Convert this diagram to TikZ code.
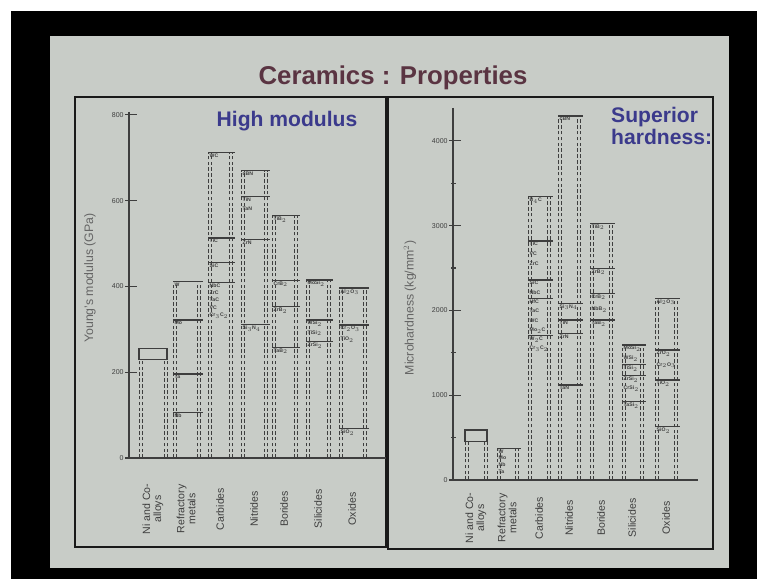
\documentclass[tikz,border=0pt]{standalone}
\usepackage{fontspec}
\setmainfont{Liberation Sans}
\usetikzlibrary{positioning}

\definecolor{slide}{HTML}{C8CCC7}
\definecolor{titlered}{HTML}{5A3442}
\definecolor{headblue}{HTML}{3B3A8C}
\definecolor{ink}{HTML}{3E3E3E}

\tikzset{
  frame/.style={line width=1.9pt, black!90},
  axisline/.style={line width=1pt, ink},
  colline/.style={densely dashed, line width=0.6pt, ink},
  level/.style={line width=1.1pt, ink},
  lvl/.style={font=\bfseries\fontsize{4.4}{5}\selectfont, text=ink, inner sep=0.4pt, anchor=north west},
  ticklab/.style={font=\fontsize{6}{7}\selectfont, text=ink, anchor=east, inner sep=1pt},
  cat/.style={font=\fontsize{9}{9.4}\selectfont, text=ink, rotate=90, align=center, inner sep=0pt},
  ytitle/.style={font=\fontsize{10.5}{12}\selectfont, text=ink!80, rotate=90, inner sep=0pt},
  head/.style={font=\bfseries\fontsize{18}{19}\selectfont, text=headblue, align=left, inner sep=0pt}
}

% one column of a bar chart: base y, scale, left x, right x, {value/label/line opacity}
\newcommand{\matcol}[5]{%
  \draw[colline] (#3,#1) -- (#3,{#1-#2*\topv});
  \draw[colline] (#3+3,#1) -- (#3+3,{#1-#2*\topv});
  \draw[colline] (#4-3,#1) -- (#4-3,{#1-#2*\topv});
  \draw[colline] (#4,#1) -- (#4,{#1-#2*\topv});
  \foreach \v/\l/\o in {#5}{
    \draw[level, draw opacity=\o] (#3,{#1-#2*\v}) -- (#4+3,{#1-#2*\v});
    \node[lvl] (l#3v\v) at (#3+1,{#1-#2*\v+0.5}) {\l};
  }
}

\begin{document}
\begin{tikzpicture}[x=0.3mm, y=-0.3mm]
  \useasboundingbox (0,0) rectangle (757,579);
  % photo border and slide
  \fill[white] (0,0) rectangle (757,579);
  \fill[black] (11,11) rectangle (757,579);
  \fill[slide] (50,36) rectangle (729,568);
  \node[font=\bfseries\fontsize{22}{24}\selectfont, text=titlered] (title) at (393,78) {Ceramics : Properties};

  % panels
  \draw[frame] (75,97) rectangle (386,547);
  \draw[frame] (388,97) rectangle (713,549);

  % ---------- Young's modulus ----------
  \coordinate (mo) at (129,458);
  \coordinate (mtop) at (129,112);
  \coordinate (mend) at (386,458);
  \draw[axisline] (mtop) -- (mo) -- (mend);
  \foreach \t in {0,200,400,600,800}{
    \draw[axisline] (125,{458-0.429*\t}) -- (137,{458-0.429*\t});
    \node[ticklab] (mt\t) at (125,{458-0.429*\t}) {\t};
  }
  \node[ytitle] (ym) at (90,278) {Young's modulus (GPa)};
  \node[head] (hm) at (287,121) {High modulus};

  % Ni and Co alloys
  \draw[colline] (139,458) -- (139,{458-0.429*230}) (142,458) -- (142,{458-0.429*230});
  \draw[colline] (164,458) -- (164,{458-0.429*230}) (167,458) -- (167,{458-0.429*230});
  \draw[level] (139,{458-0.429*230}) rectangle (167,{458-0.429*255});
  \def\topv{412}
  \matcol{458}{0.429}{173}{200}{412/W/1, 322/Mo/1, 196/Ta/1, 106/Nb/1}
  \def\topv{712}
  \matcol{458}{0.429}{208}{232}{712/WC/1, 513/TiC/1, 456/SiC/1, 409/NbC/1, 392/ZrC/0, 375/TaC/0, 358/VC/0, 341/Cr$_3$C$_2$/0}
  \def\topv{670}
  \matcol{458}{0.429}{241}{267}{670/cBN/1, 610/TiN/1, 588/TaN/0, 509/ZrN/1, 311/Si$_3$N$_4$/1}
  \def\topv{565}
  \matcol{458}{0.429}{272}{297}{565/TiB$_2$/1, 414/CrB$_2$/1, 353/ZrB$_2$/1, 258/TaB$_2$/1}
  \def\topv{415}
  \matcol{458}{0.429}{306}{330}{415/MoSi$_2$/1, 322/WSi$_2$/1, 300/TiSi$_2$/0, 272/ZrSi$_2$/1}
  \def\topv{396}
  \matcol{458}{0.429}{339}{366}{396/Al$_2$O$_3$/1, 310/Cr$_2$O$_3$/1, 286/TiO$_2$/0, 68/SiO$_2$/1}

  \foreach \cx/\ct [count=\i] in {153/{Ni and Co-\\alloys}, 186/{Refractory\\metals}, 220/Carbides, 254/Nitrides, 284/Borides, 318/Silicides, 352/Oxides}
    \node[cat] (mc\i) at (\cx,509) {\ct};

  % ---------- Microhardness ----------
  \coordinate (ho) at (453,480);
  \coordinate (htop) at (453,108);
  \coordinate (hend) at (698,480);
  \draw[axisline] (htop) -- (ho) -- (hend);
  \foreach \t in {0,1000,2000,3000,4000}{
    \draw[axisline] (449,{480-0.0848*\t}) -- (461,{480-0.0848*\t});
    \node[ticklab] (ht\t) at (449,{480-0.0848*\t}) {\t};
  }
  \foreach \t in {500,1500,2500,3500}
    \draw[axisline] (451,{480-0.0848*\t}) -- (456,{480-0.0848*\t});
  \node[ytitle] (yh) at (410,308) {Microhardness (kg/mm$^2$)};
  \node[head, anchor=north west] (hh) at (611,107) {Superior\\hardness:};

  % Ni and Co alloys
  \draw[colline] (465,480) -- (465,{480-0.0848*452}) (468,480) -- (468,{480-0.0848*452});
  \draw[colline] (484,480) -- (484,{480-0.0848*452}) (487,480) -- (487,{480-0.0848*452});
  \draw[level] (465,{480-0.0848*452}) rectangle (487,{480-0.0848*590});
  \def\topv{374}
  \matcol{480}{0.0848}{497}{518}{374/W/1, 295/Mo/0, 216/Nb/0, 138/Ta/0}
  \def\topv{3343}
  \matcol{480}{0.0848}{528}{550}{3343/B$_4$C/1, 2820/TiC/1, 2700/VC/0, 2590/ZrC/0, 2360/SiC/1, 2250/NbC/0, 2140/HfC/1, 2030/TaC/0, 1920/WC/0, 1810/Mo$_2$C/0, 1700/W$_2$C/1, 1590/Cr$_3$C$_2$/0}
  \def\topv{4294}
  \matcol{480}{0.0848}{558}{580}{4294/cBN/1, 2084/Si$_3$N$_4$/1, 1888/TiN/1, 1730/ZrN/1, 1120/TaN/1}
  \def\topv{3028}
  \matcol{480}{0.0848}{590}{612}{3028/TiB$_2$/1, 2497/ZrB$_2$/1, 2202/CrB$_2$/1, 2060/NbB$_2$/0, 1888/TaB$_2$/1}
  \def\topv{1593}
  \matcol{480}{0.0848}{622}{643}{1593/MoSi$_2$/1, 1480/WSi$_2$/0, 1360/TiSi$_2$/1, 1230/ZrSi$_2$/1, 1120/CrSi$_2$/0, 924/TaSi$_2$/1}
  \def\topv{2143}
  \matcol{480}{0.0848}{655}{677}{2143/Al$_2$O$_3$/1, 1534/ZrO$_2$/1, 1400/Cr$_2$O$_3$/0, 1180/TiO$_2$/1, 629/SiO$_2$/1}

  \foreach \cx/\ct [count=\i] in {476/{Ni and Co-\\alloys}, 507/{Refractory\\metals}, 539/Carbides, 569/Nitrides, 601/Borides, 632/Silicides, 666/Oxides}
    \node[cat] (hc\i) at (\cx,518) {\ct};
\end{tikzpicture}
\end{document}
